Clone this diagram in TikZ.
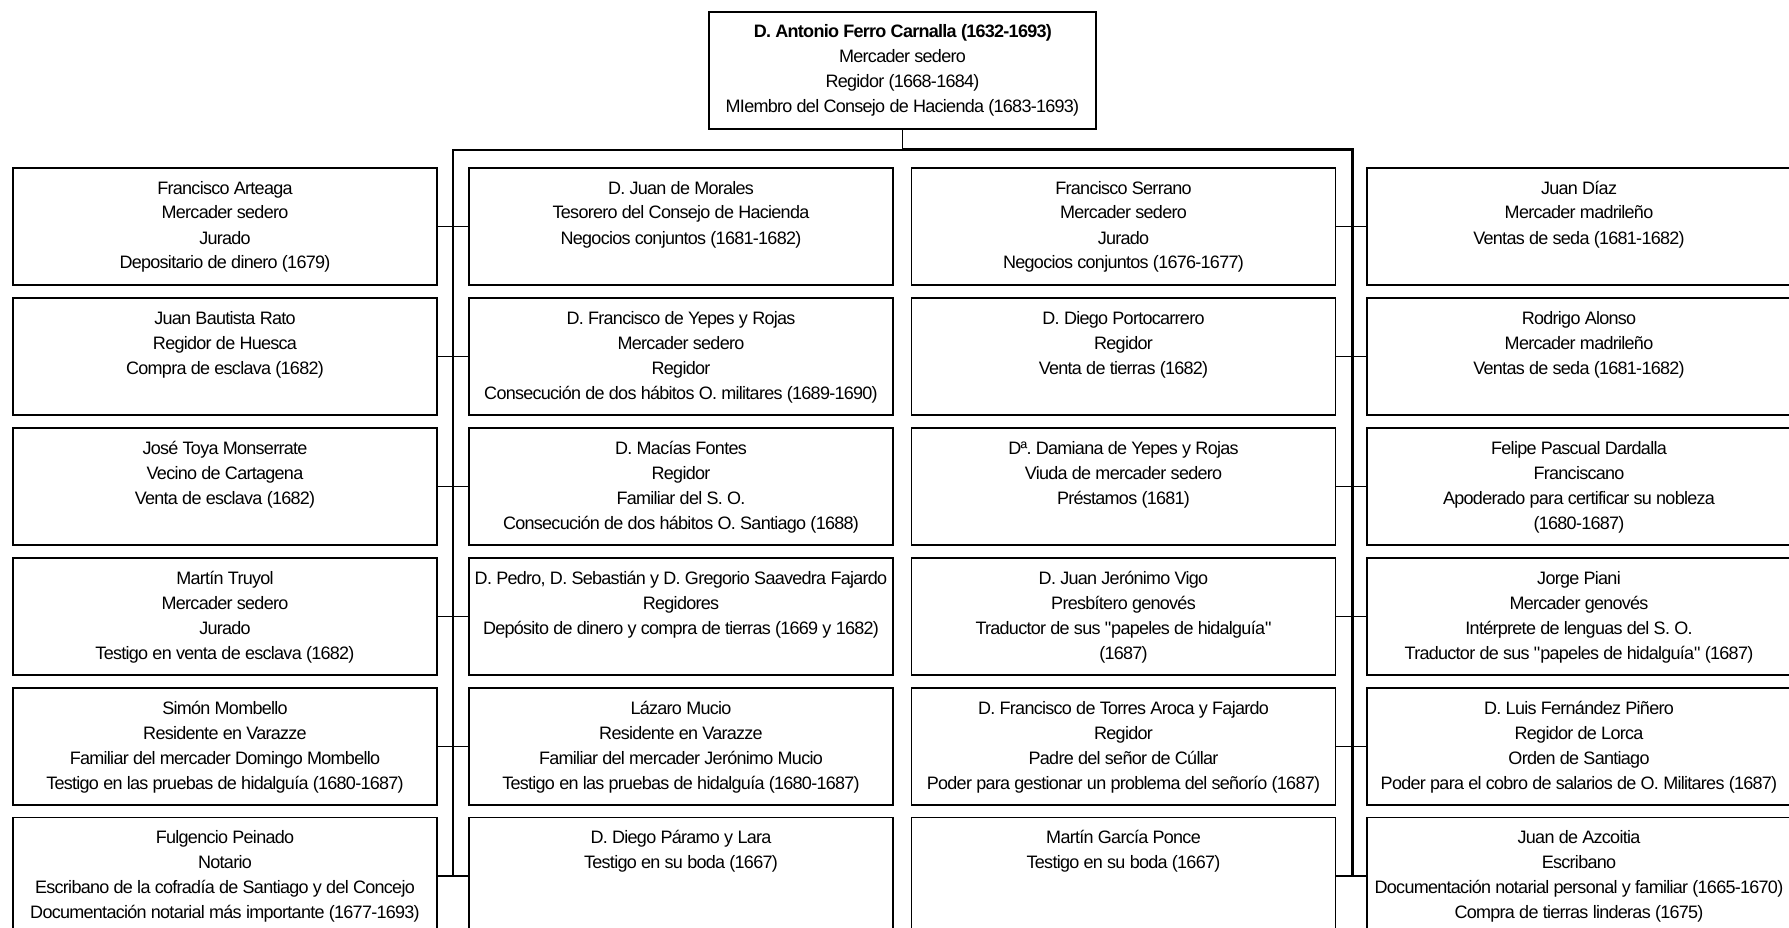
\documentclass[tikz,border=0pt]{standalone}
\usepackage{fontspec}
\setmainfont{Liberation Sans}[LetterSpace=-4.0]
\usepackage{tikz}
\frenchspacing

\newcommand{\ficha}[2][424pt]{\parbox[c][117pt][t]{#1}{\centering\rule{0pt}{26pt}\begin{tabular}[t]{@{}c@{}}#2\end{tabular}}}

\begin{document}
\begin{tikzpicture}[x=1pt,y=-1pt,
        caja/.style={draw, line width=1.6pt, inner sep=0pt, font=\fontsize{18}{25}\selectfont},
        enlace/.style={line width=1.4pt},
        busizq/.style={line width=1.8pt},
        busder/.style={line width=3pt}]
                \useasboundingbox (0,0) rectangle (1789,928);
                \clip (0,0) rectangle (1789,928);
                \node[caja] (jefe) at (902.5,70.5) {\ficha[387pt]{\textbf{D. Antonio Ferro Carnalla (1632-1693)}\\Mercader sedero\\Regidor (1668-1684)\\MIembro del Consejo de Hacienda (1683-1693)}};
                % primera columna
                \node[caja] (a1) at (225,226.5) {\ficha{Francisco Arteaga\\Mercader sedero\\Jurado\\Depositario de dinero (1679)}};
                \node[caja] (a2) at (225,356.5) {\ficha{Juan Bautista Rato\\Regidor de Huesca\\Compra de esclava (1682)}};
                \node[caja] (a3) at (225,486.5) {\ficha{José Toya Monserrate\\Vecino de Cartagena\\Venta de esclava (1682)}};
                \node[caja] (a4) at (225,616.5) {\ficha{Martín Truyol\\Mercader sedero\\Jurado\\Testigo en venta de esclava (1682)}};
                \node[caja] (a5) at (225,746.5) {\ficha{Simón Mombello\\Residente en Varazze\\Familiar del mercader Domingo Mombello\\Testigo en las pruebas de hidalguía (1680-1687)}};
                \node[caja] (a6) at (225,876) {\ficha{Fulgencio Peinado\\Notario\\Escribano de la cofradía de Santiago y del Concejo\\Documentación notarial más importante (1677-1693)}};
                % segunda columna
                \node[caja] (b1) at (681,226.5) {\ficha{D. Juan de Morales\\Tesorero del Consejo de Hacienda\\Negocios conjuntos (1681-1682)}};
                \node[caja] (b2) at (681,356.5) {\ficha{D. Francisco de Yepes y Rojas\\Mercader sedero\\Regidor\\Consecución de dos hábitos O. militares (1689-1690)}};
                \node[caja] (b3) at (681,486.5) {\ficha{D. Macías Fontes\\Regidor\\Familiar del S. O.\\Consecución de dos hábitos O. Santiago (1688)}};
                \node[caja] (b4) at (681,616.5) {\ficha{D. Pedro, D. Sebastián y D. Gregorio Saavedra Fajardo\\Regidores\\Depósito de dinero y compra de tierras (1669 y 1682)}};
                \node[caja] (b5) at (681,746.5) {\ficha{Lázaro Mucio\\Residente en Varazze\\Familiar del mercader Jerónimo Mucio\\Testigo en las pruebas de hidalguía (1680-1687)}};
                \node[caja] (b6) at (681,876) {\ficha{D. Diego Páramo y Lara\\Testigo en su boda (1667)}};
                % tercera columna
                \node[caja] (c1) at (1123.5,226.5) {\ficha{Francisco Serrano\\Mercader sedero\\Jurado\\Negocios conjuntos (1676-1677)}};
                \node[caja] (c2) at (1123.5,356.5) {\ficha{D. Diego Portocarrero\\Regidor\\Venta de tierras (1682)}};
                \node[caja] (c3) at (1123.5,486.5) {\ficha{Dª. Damiana de Yepes y Rojas\\Viuda de mercader sedero\\Préstamos (1681)}};
                \node[caja] (c4) at (1123.5,616.5) {\ficha{D. Juan Jerónimo Vigo\\Presbítero genovés\\Traductor de sus \textquotedbl papeles de hidalguía\textquotedbl\\(1687)}};
                \node[caja] (c5) at (1123.5,746.5) {\ficha{D. Francisco de Torres Aroca y Fajardo\\Regidor\\Padre del señor de Cúllar\\Poder para gestionar un problema del señorío (1687)}};
                \node[caja] (c6) at (1123.5,876) {\ficha{Martín García Ponce\\Testigo en su boda (1667)}};
                % cuarta columna
                \node[caja] (d1) at (1579,226.5) {\ficha{Juan Díaz\\Mercader madrileño\\Ventas de seda (1681-1682)}};
                \node[caja] (d2) at (1579,356.5) {\ficha{Rodrigo Alonso\\Mercader madrileño\\Ventas de seda (1681-1682)}};
                \node[caja] (d3) at (1579,486.5) {\ficha{Felipe Pascual Dardalla\\Franciscano\\Apoderado para certificar su nobleza\\(1680-1687)}};
                \node[caja] (d4) at (1579,616.5) {\ficha{Jorge Piani\\Mercader genovés\\Intérprete de lenguas del S. O.\\Traductor de sus \textquotedbl papeles de hidalguía\textquotedbl{} (1687)}};
                \node[caja] (d5) at (1579,746.5) {\ficha{D. Luis Fernández Piñero\\Regidor de Lorca\\Orden de Santiago\\Poder para el cobro de salarios de O. Militares (1687)}};
                \node[caja] (d6) at (1579,876) {\ficha{Juan de Azcoitia\\Escribano\\Documentación notarial personal y familiar (1665-1670)\\Compra de tierras linderas (1675)}};
                % lineas
                \coordinate (bizq) at (453,150);
                \coordinate (bder) at (1352,150);
                \draw[enlace] (jefe.south) -- (jefe.south |- bizq);
                \draw[busizq] (bizq |- a6.east) -- (bizq) -- (jefe.south |- bizq);
                \draw[busder] (jefe.south |- bizq) -- (bder) -- (bder |- c6.east);
                \foreach \i in {1,...,6} {
                    \draw[enlace] (a\i.east) -- (b\i.west);
                    \draw[enlace] (c\i.east) -- (d\i.west);
                }
            \end{tikzpicture}
\end{document}
